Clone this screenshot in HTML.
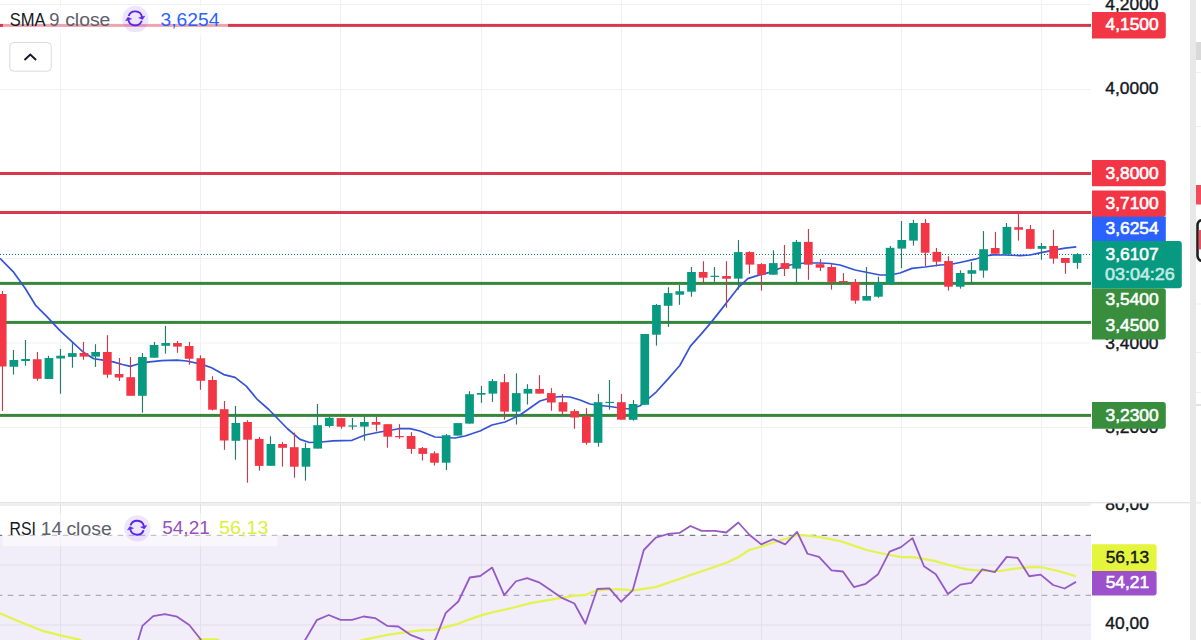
<!DOCTYPE html>
<html><head><meta charset="utf-8"><title>Chart</title>
<style>
html,body{margin:0;padding:0;background:#fff;overflow:hidden;}
body{width:1201px;height:640px;font-family:"Liberation Sans",sans-serif;}
svg{display:block;}
</style></head><body>
<svg width="1201" height="640" viewBox="0 0 1201 640" font-family="'Liberation Sans', sans-serif">
<rect width="1201" height="640" fill="#ffffff"/>
<rect x="0" y="535.4" width="1091" height="104.60000000000002" fill="#f1edf9"/>
<rect x="60.00" y="0" width="1" height="502" fill="#f0f1f4"/>
<rect x="60.00" y="504" width="1" height="136" fill="#e4e0ea"/>
<rect x="200.00" y="0" width="1" height="502" fill="#f0f1f4"/>
<rect x="200.00" y="504" width="1" height="136" fill="#e4e0ea"/>
<rect x="340.00" y="0" width="1" height="502" fill="#f0f1f4"/>
<rect x="340.00" y="504" width="1" height="136" fill="#e4e0ea"/>
<rect x="481.00" y="0" width="1" height="502" fill="#f0f1f4"/>
<rect x="481.00" y="504" width="1" height="136" fill="#e4e0ea"/>
<rect x="621.00" y="0" width="1" height="502" fill="#f0f1f4"/>
<rect x="621.00" y="504" width="1" height="136" fill="#e4e0ea"/>
<rect x="761.00" y="0" width="1" height="502" fill="#f0f1f4"/>
<rect x="761.00" y="504" width="1" height="136" fill="#e4e0ea"/>
<rect x="901.00" y="0" width="1" height="502" fill="#f0f1f4"/>
<rect x="901.00" y="504" width="1" height="136" fill="#e4e0ea"/>
<rect x="1041.00" y="0" width="1" height="502" fill="#f0f1f4"/>
<rect x="1041.00" y="504" width="1" height="136" fill="#e4e0ea"/>
<rect x="0" y="4.00" width="1091" height="1" fill="#f0f1f4"/>
<rect x="0" y="89.00" width="1091" height="1" fill="#f0f1f4"/>
<rect x="0" y="173.00" width="1091" height="1" fill="#f0f1f4"/>
<rect x="0" y="258.00" width="1091" height="1" fill="#f0f1f4"/>
<rect x="0" y="342.50" width="1091" height="1" fill="#f0f1f4"/>
<rect x="0" y="427.00" width="1091" height="1" fill="#f0f1f4"/>
<rect x="0" y="504.5" width="1091" height="1" fill="#e4e0ea"/>
<rect x="0" y="564.5" width="1091" height="1" fill="#e4e0ea"/>
<rect x="0" y="624.5" width="1091" height="1" fill="#e4e0ea"/>
<line x1="0" y1="535.4" x2="1091" y2="535.4" stroke="#787b86" stroke-width="1.3" stroke-dasharray="5.5 5.5" stroke-dashoffset="3.25"/>
<line x1="0" y1="595.4" x2="1091" y2="595.4" stroke="#aeaab8" stroke-width="1.2" stroke-dasharray="5.5 5.5" stroke-dashoffset="3.25"/>
<rect x="0" y="23.90" width="1091" height="3" fill="#d9374b"/>
<rect x="0" y="172.00" width="1091" height="3" fill="#d9374b"/>
<rect x="0" y="211.00" width="1091" height="3" fill="#d9374b"/>
<rect x="0" y="281.90" width="1091" height="3" fill="#38863c"/>
<rect x="0" y="320.90" width="1091" height="3" fill="#38863c"/>
<rect x="0" y="413.90" width="1091" height="3" fill="#38863c"/>
<line x1="0" y1="254.5" x2="1091" y2="254.5" stroke="#167a68" stroke-width="1" stroke-dasharray="1 2"/>
<polyline points="0.00,258.40 13.10,271.60 25.30,288.50 35.60,305.30 46.90,316.60 60.00,330.70 72.20,341.90 83.40,352.25 93.75,358.75 105.00,360.30 113.10,361.90 122.50,364.50 130.30,366.40 138.10,364.00 147.50,362.20 161.60,360.60 177.20,360.20 186.60,361.00 201.25,364.10 211.60,367.80 223.75,374.60 235.00,377.40 246.25,386.10 257.50,399.70 268.75,409.50 287.50,428.75 300.00,439.40 309.40,442.50 321.90,442.00 332.80,440.90 352.00,440.30 365.00,435.00 380.00,432.00 392.00,430.00 400.00,428.50 410.00,428.70 420.00,431.00 435.00,437.00 445.00,437.50 455.00,438.00 465.00,436.00 480.00,431.00 492.00,425.00 505.00,422.00 520.00,415.00 530.00,408.00 540.00,401.00 550.00,398.00 560.00,396.50 570.00,397.00 580.00,400.00 590.00,404.00 600.00,405.50 610.00,406.50 620.00,408.00 630.00,409.00 640.00,405.80 656.40,391.80 668.10,378.90 679.80,365.50 690.40,346.10 700.90,334.40 710.30,323.40 722.00,308.60 733.70,293.40 738.00,287.90 747.80,278.60 758.80,275.10 768.60,272.60 775.00,270.00 790.00,265.00 805.00,263.00 820.00,263.00 830.00,263.50 840.00,265.00 855.00,270.00 870.00,273.00 880.00,275.00 890.00,275.00 900.00,273.00 912.00,268.40 925.00,267.00 940.00,265.00 950.00,264.50 960.00,262.50 975.00,259.20 985.00,256.00 993.00,254.80 1005.00,255.00 1020.00,255.60 1030.00,255.00 1041.10,252.70 1055.20,249.90 1065.00,248.20 1076.30,246.80" fill="none" stroke="#3553d6" stroke-width="1.7" stroke-linejoin="round"/>
<rect x="1.90" y="291.00" width="1.15" height="120.00" fill="#bd404f"/>
<rect x="-2.15" y="294.00" width="8.7" height="72.50" fill="#f23645"/>
<rect x="12.90" y="350.00" width="1.15" height="24.50" fill="#267a69"/>
<rect x="9.53" y="360.00" width="8.7" height="6.75" fill="#089981"/>
<rect x="24.90" y="340.00" width="1.15" height="25.75" fill="#267a69"/>
<rect x="21.22" y="359.00" width="8.7" height="2.00" fill="#089981"/>
<rect x="36.90" y="352.00" width="1.15" height="28.75" fill="#bd404f"/>
<rect x="32.90" y="359.25" width="8.7" height="19.50" fill="#f23645"/>
<rect x="47.90" y="355.75" width="1.15" height="23.25" fill="#267a69"/>
<rect x="44.58" y="358.00" width="8.7" height="21.00" fill="#089981"/>
<rect x="59.90" y="349.00" width="1.15" height="44.75" fill="#267a69"/>
<rect x="56.27" y="355.75" width="8.7" height="2.75" fill="#089981"/>
<rect x="71.90" y="341.90" width="1.15" height="25.80" fill="#267a69"/>
<rect x="67.95" y="353.10" width="8.7" height="3.80" fill="#089981"/>
<rect x="82.90" y="341.90" width="1.15" height="17.90" fill="#bd404f"/>
<rect x="79.63" y="353.00" width="8.7" height="3.60" fill="#f23645"/>
<rect x="94.90" y="344.20" width="1.15" height="22.70" fill="#267a69"/>
<rect x="91.31" y="352.00" width="8.7" height="4.60" fill="#089981"/>
<rect x="106.90" y="335.20" width="1.15" height="42.60" fill="#bd404f"/>
<rect x="103.00" y="352.00" width="8.7" height="22.70" fill="#f23645"/>
<rect x="118.90" y="358.00" width="1.15" height="23.00" fill="#bd404f"/>
<rect x="114.68" y="374.00" width="8.7" height="3.50" fill="#f23645"/>
<rect x="129.90" y="357.00" width="1.15" height="38.80" fill="#bd404f"/>
<rect x="126.36" y="377.20" width="8.7" height="18.60" fill="#f23645"/>
<rect x="141.90" y="353.10" width="1.15" height="59.60" fill="#267a69"/>
<rect x="138.05" y="357.00" width="8.7" height="38.80" fill="#089981"/>
<rect x="153.90" y="341.90" width="1.15" height="15.80" fill="#267a69"/>
<rect x="149.73" y="345.00" width="8.7" height="12.70" fill="#089981"/>
<rect x="164.90" y="325.90" width="1.15" height="27.70" fill="#267a69"/>
<rect x="161.41" y="343.00" width="8.7" height="2.80" fill="#089981"/>
<rect x="176.90" y="341.00" width="1.15" height="11.80" fill="#bd404f"/>
<rect x="173.09" y="343.00" width="8.7" height="3.60" fill="#f23645"/>
<rect x="188.90" y="341.90" width="1.15" height="22.90" fill="#bd404f"/>
<rect x="184.78" y="346.00" width="8.7" height="12.75" fill="#f23645"/>
<rect x="199.90" y="355.20" width="1.15" height="34.60" fill="#bd404f"/>
<rect x="196.46" y="358.25" width="8.7" height="22.50" fill="#f23645"/>
<rect x="211.90" y="376.25" width="1.15" height="34.25" fill="#bd404f"/>
<rect x="208.14" y="380.00" width="8.7" height="29.70" fill="#f23645"/>
<rect x="223.90" y="401.00" width="1.15" height="48.80" fill="#bd404f"/>
<rect x="219.83" y="409.20" width="8.7" height="31.30" fill="#f23645"/>
<rect x="234.90" y="406.00" width="1.15" height="53.70" fill="#267a69"/>
<rect x="231.51" y="423.00" width="8.7" height="17.80" fill="#089981"/>
<rect x="246.90" y="420.20" width="1.15" height="62.50" fill="#bd404f"/>
<rect x="243.19" y="422.00" width="8.7" height="17.70" fill="#f23645"/>
<rect x="258.90" y="437.00" width="1.15" height="33.60" fill="#bd404f"/>
<rect x="254.88" y="438.90" width="8.7" height="27.00" fill="#f23645"/>
<rect x="269.90" y="436.25" width="1.15" height="29.55" fill="#267a69"/>
<rect x="266.56" y="444.00" width="8.7" height="21.80" fill="#089981"/>
<rect x="281.90" y="442.00" width="1.15" height="24.60" fill="#bd404f"/>
<rect x="278.24" y="444.00" width="8.7" height="3.80" fill="#f23645"/>
<rect x="293.90" y="432.70" width="1.15" height="45.00" fill="#bd404f"/>
<rect x="289.92" y="447.20" width="8.7" height="19.50" fill="#f23645"/>
<rect x="304.90" y="442.80" width="1.15" height="37.80" fill="#267a69"/>
<rect x="301.61" y="448.00" width="8.7" height="18.70" fill="#089981"/>
<rect x="316.90" y="404.00" width="1.15" height="44.60" fill="#267a69"/>
<rect x="313.29" y="425.20" width="8.7" height="23.40" fill="#089981"/>
<rect x="328.90" y="417.00" width="1.15" height="10.50" fill="#267a69"/>
<rect x="324.97" y="417.80" width="8.7" height="8.20" fill="#089981"/>
<rect x="340.90" y="418.10" width="1.15" height="10.65" fill="#bd404f"/>
<rect x="336.66" y="418.10" width="8.7" height="8.60" fill="#f23645"/>
<rect x="351.90" y="418.00" width="1.15" height="11.70" fill="#267a69"/>
<rect x="348.34" y="425.45" width="8.7" height="1.20" fill="#089981"/>
<rect x="363.90" y="416.40" width="1.15" height="24.20" fill="#267a69"/>
<rect x="360.02" y="422.00" width="8.7" height="4.60" fill="#089981"/>
<rect x="375.90" y="416.40" width="1.15" height="15.00" fill="#bd404f"/>
<rect x="371.71" y="422.00" width="8.7" height="2.70" fill="#f23645"/>
<rect x="386.90" y="424.20" width="1.15" height="23.50" fill="#bd404f"/>
<rect x="383.39" y="424.20" width="8.7" height="12.50" fill="#f23645"/>
<rect x="398.90" y="424.20" width="1.15" height="14.55" fill="#bd404f"/>
<rect x="395.07" y="436.00" width="8.7" height="1.20" fill="#f23645"/>
<rect x="410.90" y="432.20" width="1.15" height="21.70" fill="#bd404f"/>
<rect x="406.75" y="436.00" width="8.7" height="12.90" fill="#f23645"/>
<rect x="421.90" y="447.00" width="1.15" height="13.60" fill="#bd404f"/>
<rect x="418.44" y="448.10" width="8.7" height="5.80" fill="#f23645"/>
<rect x="433.90" y="451.25" width="1.15" height="14.35" fill="#bd404f"/>
<rect x="430.12" y="453.30" width="8.7" height="9.40" fill="#f23645"/>
<rect x="445.90" y="434.00" width="1.15" height="36.00" fill="#267a69"/>
<rect x="441.80" y="435.20" width="8.7" height="27.50" fill="#089981"/>
<rect x="456.90" y="423.10" width="1.15" height="12.50" fill="#267a69"/>
<rect x="453.49" y="423.10" width="8.7" height="12.50" fill="#089981"/>
<rect x="468.90" y="391.10" width="1.15" height="32.50" fill="#267a69"/>
<rect x="465.17" y="394.20" width="8.7" height="29.40" fill="#089981"/>
<rect x="480.90" y="386.00" width="1.15" height="16.80" fill="#267a69"/>
<rect x="476.85" y="393.00" width="8.7" height="1.70" fill="#089981"/>
<rect x="491.90" y="379.00" width="1.15" height="22.90" fill="#267a69"/>
<rect x="488.54" y="381.10" width="8.7" height="12.50" fill="#089981"/>
<rect x="503.90" y="374.00" width="1.15" height="45.70" fill="#bd404f"/>
<rect x="500.22" y="382.20" width="8.7" height="29.40" fill="#f23645"/>
<rect x="515.90" y="373.30" width="1.15" height="51.20" fill="#267a69"/>
<rect x="511.90" y="393.10" width="8.7" height="18.50" fill="#089981"/>
<rect x="526.90" y="384.20" width="1.15" height="20.30" fill="#267a69"/>
<rect x="523.59" y="388.90" width="8.7" height="4.70" fill="#089981"/>
<rect x="538.90" y="375.20" width="1.15" height="18.40" fill="#bd404f"/>
<rect x="535.27" y="389.00" width="8.7" height="4.60" fill="#f23645"/>
<rect x="550.90" y="388.10" width="1.15" height="22.70" fill="#bd404f"/>
<rect x="546.95" y="393.10" width="8.7" height="9.40" fill="#f23645"/>
<rect x="561.90" y="394.00" width="1.15" height="21.50" fill="#bd404f"/>
<rect x="558.63" y="402.20" width="8.7" height="9.40" fill="#f23645"/>
<rect x="573.90" y="409.20" width="1.15" height="19.55" fill="#bd404f"/>
<rect x="570.32" y="411.10" width="8.7" height="6.40" fill="#f23645"/>
<rect x="585.90" y="408.10" width="1.15" height="36.60" fill="#bd404f"/>
<rect x="582.00" y="416.25" width="8.7" height="26.55" fill="#f23645"/>
<rect x="597.90" y="394.00" width="1.15" height="52.70" fill="#267a69"/>
<rect x="593.68" y="402.20" width="8.7" height="40.60" fill="#089981"/>
<rect x="608.90" y="380.00" width="1.15" height="29.70" fill="#267a69"/>
<rect x="605.37" y="401.85" width="8.7" height="1.20" fill="#089981"/>
<rect x="620.90" y="394.00" width="1.15" height="25.70" fill="#bd404f"/>
<rect x="617.05" y="402.20" width="8.7" height="17.50" fill="#f23645"/>
<rect x="632.90" y="400.00" width="1.15" height="20.70" fill="#267a69"/>
<rect x="628.73" y="404.00" width="8.7" height="15.80" fill="#089981"/>
<rect x="643.90" y="334.00" width="1.15" height="70.80" fill="#267a69"/>
<rect x="640.41" y="334.00" width="8.7" height="70.80" fill="#089981"/>
<rect x="655.90" y="304.00" width="1.15" height="41.60" fill="#267a69"/>
<rect x="652.10" y="305.00" width="8.7" height="29.70" fill="#089981"/>
<rect x="667.90" y="287.30" width="1.15" height="39.60" fill="#267a69"/>
<rect x="663.78" y="293.10" width="8.7" height="12.70" fill="#089981"/>
<rect x="678.90" y="285.00" width="1.15" height="19.80" fill="#267a69"/>
<rect x="675.46" y="291.25" width="8.7" height="3.45" fill="#089981"/>
<rect x="690.90" y="267.00" width="1.15" height="29.70" fill="#267a69"/>
<rect x="687.15" y="272.00" width="8.7" height="19.70" fill="#089981"/>
<rect x="702.90" y="261.25" width="1.15" height="22.15" fill="#bd404f"/>
<rect x="698.83" y="272.00" width="8.7" height="5.70" fill="#f23645"/>
<rect x="713.90" y="267.00" width="1.15" height="14.90" fill="#267a69"/>
<rect x="710.51" y="275.75" width="8.7" height="1.20" fill="#089981"/>
<rect x="725.90" y="261.25" width="1.15" height="46.45" fill="#bd404f"/>
<rect x="722.20" y="276.00" width="8.7" height="2.75" fill="#f23645"/>
<rect x="737.90" y="240.10" width="1.15" height="49.40" fill="#267a69"/>
<rect x="733.88" y="252.10" width="8.7" height="26.50" fill="#089981"/>
<rect x="748.90" y="251.30" width="1.15" height="22.40" fill="#bd404f"/>
<rect x="745.56" y="252.10" width="8.7" height="12.50" fill="#f23645"/>
<rect x="760.90" y="263.10" width="1.15" height="27.50" fill="#bd404f"/>
<rect x="757.25" y="264.10" width="8.7" height="10.70" fill="#f23645"/>
<rect x="772.90" y="250.20" width="1.15" height="24.50" fill="#267a69"/>
<rect x="768.93" y="263.10" width="8.7" height="11.60" fill="#089981"/>
<rect x="783.90" y="245.00" width="1.15" height="31.00" fill="#bd404f"/>
<rect x="780.61" y="263.10" width="8.7" height="5.80" fill="#f23645"/>
<rect x="795.90" y="240.00" width="1.15" height="42.20" fill="#267a69"/>
<rect x="792.29" y="241.90" width="8.7" height="26.70" fill="#089981"/>
<rect x="807.90" y="229.00" width="1.15" height="50.80" fill="#bd404f"/>
<rect x="803.98" y="241.90" width="8.7" height="22.80" fill="#f23645"/>
<rect x="819.90" y="259.00" width="1.15" height="12.00" fill="#bd404f"/>
<rect x="815.66" y="264.20" width="8.7" height="3.50" fill="#f23645"/>
<rect x="830.90" y="264.20" width="1.15" height="25.50" fill="#bd404f"/>
<rect x="827.34" y="267.00" width="8.7" height="14.90" fill="#f23645"/>
<rect x="842.90" y="273.10" width="1.15" height="10.65" fill="#bd404f"/>
<rect x="839.03" y="281.05" width="8.7" height="1.20" fill="#f23645"/>
<rect x="854.90" y="279.00" width="1.15" height="24.75" fill="#bd404f"/>
<rect x="850.71" y="282.20" width="8.7" height="18.40" fill="#f23645"/>
<rect x="865.90" y="267.00" width="1.15" height="33.60" fill="#267a69"/>
<rect x="862.39" y="296.00" width="8.7" height="4.60" fill="#089981"/>
<rect x="877.90" y="276.70" width="1.15" height="21.10" fill="#267a69"/>
<rect x="874.08" y="282.70" width="8.7" height="14.00" fill="#089981"/>
<rect x="889.90" y="246.00" width="1.15" height="37.75" fill="#267a69"/>
<rect x="885.76" y="247.80" width="8.7" height="35.95" fill="#089981"/>
<rect x="900.90" y="221.00" width="1.15" height="47.10" fill="#267a69"/>
<rect x="897.44" y="240.00" width="8.7" height="8.60" fill="#089981"/>
<rect x="912.90" y="219.80" width="1.15" height="25.80" fill="#267a69"/>
<rect x="909.12" y="223.00" width="8.7" height="17.60" fill="#089981"/>
<rect x="924.90" y="219.00" width="1.15" height="47.00" fill="#bd404f"/>
<rect x="920.81" y="223.00" width="8.7" height="29.70" fill="#f23645"/>
<rect x="935.90" y="248.00" width="1.15" height="18.40" fill="#bd404f"/>
<rect x="932.49" y="251.90" width="8.7" height="9.80" fill="#f23645"/>
<rect x="947.90" y="256.25" width="1.15" height="34.35" fill="#bd404f"/>
<rect x="944.17" y="261.00" width="8.7" height="25.70" fill="#f23645"/>
<rect x="959.90" y="270.30" width="1.15" height="18.30" fill="#267a69"/>
<rect x="955.86" y="273.00" width="8.7" height="13.70" fill="#089981"/>
<rect x="970.90" y="262.00" width="1.15" height="20.30" fill="#267a69"/>
<rect x="967.54" y="270.20" width="8.7" height="3.55" fill="#089981"/>
<rect x="982.90" y="231.10" width="1.15" height="46.60" fill="#267a69"/>
<rect x="979.22" y="249.20" width="8.7" height="21.40" fill="#089981"/>
<rect x="994.90" y="231.90" width="1.15" height="21.85" fill="#bd404f"/>
<rect x="990.90" y="248.00" width="8.7" height="5.75" fill="#f23645"/>
<rect x="1005.90" y="223.00" width="1.15" height="31.20" fill="#267a69"/>
<rect x="1002.59" y="226.90" width="8.7" height="27.30" fill="#089981"/>
<rect x="1017.90" y="213.60" width="1.15" height="27.00" fill="#bd404f"/>
<rect x="1014.27" y="227.20" width="8.7" height="2.50" fill="#f23645"/>
<rect x="1029.90" y="225.00" width="1.15" height="23.80" fill="#bd404f"/>
<rect x="1025.95" y="229.10" width="8.7" height="19.70" fill="#f23645"/>
<rect x="1040.90" y="242.90" width="1.15" height="16.90" fill="#267a69"/>
<rect x="1037.64" y="246.00" width="8.7" height="2.80" fill="#089981"/>
<rect x="1052.90" y="229.80" width="1.15" height="33.90" fill="#bd404f"/>
<rect x="1049.32" y="246.00" width="8.7" height="12.60" fill="#f23645"/>
<rect x="1064.90" y="258.00" width="1.15" height="15.80" fill="#bd404f"/>
<rect x="1061.00" y="258.00" width="8.7" height="4.90" fill="#f23645"/>
<rect x="1076.90" y="253.20" width="1.15" height="15.70" fill="#267a69"/>
<rect x="1072.69" y="254.10" width="8.7" height="8.80" fill="#089981"/>
<polyline points="0.00,613.30 20.80,622.30 41.70,630.60 60.40,635.40 79.20,639.60 84.00,642.00" fill="none" stroke="#e3f44c" stroke-width="2.2" stroke-linejoin="round"/>
<polyline points="195.00,642.00 200.00,639.30 216.70,639.30 222.00,642.00" fill="none" stroke="#e3f44c" stroke-width="2.2" stroke-linejoin="round"/>
<polyline points="355.00,642.00 364.60,639.60 387.50,634.80 410.40,631.70 422.90,630.20 433.30,630.00 445.80,627.10 458.30,623.75 468.75,619.60 481.25,615.40 491.70,612.50 510.80,608.30 531.70,602.90 552.50,599.40 573.30,595.80 585.80,594.80 596.25,590.60 608.75,589.40 621.25,589.40 633.75,590.40 655.40,587.10 672.00,581.50 692.90,574.20 713.75,567.30 728.30,562.00 738.75,556.90 749.20,550.00 761.70,546.50 774.20,542.30 786.70,538.50 797.10,535.00 807.50,535.60 820.00,537.10 840.80,541.25 850.00,544.40 866.70,550.00 883.30,553.75 900.00,556.90 914.60,557.30 933.30,560.60 950.00,565.20 966.70,569.40 983.30,571.00 1000.00,571.00 1016.70,568.30 1033.30,566.90 1041.70,567.30 1058.30,571.00 1076.00,576.25" fill="none" stroke="#e3f44c" stroke-width="2.2" stroke-linejoin="round"/>
<polyline points="137.90,641.00 142.40,625.90 153.20,616.10 164.90,614.20 177.10,616.70 189.30,625.00 200.40,639.00 202.00,642.00" fill="none" stroke="#955ac6" stroke-width="1.8" stroke-linejoin="round"/>
<polyline points="303.00,642.00 305.20,640.00 316.70,620.20 328.75,615.00 340.60,619.80 352.10,619.80 363.50,616.50 375.00,618.10 387.10,625.80 398.30,626.50 410.40,634.80 422.90,639.60 426.00,642.00" fill="none" stroke="#955ac6" stroke-width="1.8" stroke-linejoin="round"/>
<polyline points="432.00,642.00 435.00,640.00 445.80,612.90 458.30,601.50 469.80,577.50 480.20,576.00 492.20,567.60 504.20,595.20 516.00,581.25 527.10,578.10 539.00,582.30 550.40,590.00 561.90,597.90 574.40,603.50 585.40,623.75 597.30,589.00 609.40,588.30 621.10,601.90 632.80,590.10 643.80,550.00 655.80,537.70 667.90,534.00 679.40,532.90 690.40,526.00 701.70,530.80 714.80,530.80 726.25,532.50 738.30,522.50 749.60,535.00 761.25,544.40 773.10,539.20 785.20,544.40 797.10,531.90 807.50,553.75 819.00,556.90 831.50,570.40 842.90,571.50 853.90,587.10 865.70,583.80 878.10,574.20 889.60,551.70 901.00,547.10 912.50,538.10 924.00,566.25 935.80,574.20 947.90,594.00 960.40,584.60 971.25,582.90 982.30,569.40 994.80,572.10 1006.70,556.90 1017.70,557.90 1029.20,576.25 1040.60,574.60 1053.10,585.00 1064.60,588.50 1076.00,581.90" fill="none" stroke="#955ac6" stroke-width="1.8" stroke-linejoin="round"/>
<rect x="0" y="502" width="1190" height="1.6" fill="#e3e3e6"/>
<rect x="1091" y="0" width="99" height="502" fill="#ffffff"/>
<rect x="1091" y="503.6" width="99" height="136.39999999999998" fill="#ffffff"/>
<text x="1105.3" y="9.6" fill="#131722" font-size="17.4" stroke="#131722" stroke-width="0.4" >4,2000</text>
<text x="1105.3" y="93.7" fill="#131722" font-size="17.4" stroke="#131722" stroke-width="0.4" >4,0000</text>
<text x="1105.3" y="349.4" fill="#131722" font-size="17.4" stroke="#131722" stroke-width="0.4" >3,4000</text>
<text x="1105.3" y="433.4" fill="#131722" font-size="17.4" stroke="#131722" stroke-width="0.4" >3,2000</text>
<svg x="1091" y="503.6" width="99" height="30" overflow="hidden"><text x="14.3" y="6.4" fill="#131722" font-size="17.4" stroke="#131722" stroke-width="0.4">80,00</text></svg>
<text x="1105.3" y="629.4" fill="#131722" font-size="17.4" stroke="#131722" stroke-width="0.4" >40,00</text>
<path d="M1092,12.1 H1162.8 Q1165.8,12.1 1165.8,15.1 V35.6 Q1165.8,38.6 1162.8,38.6 H1092 Z" fill="#f23645"/>
<text x="1105.5" y="30.2" fill="#ffffff" font-size="17.4" stroke="#ffffff" stroke-width="0.6" >4,1500</text>
<path d="M1092,160 H1162.8 Q1165.8,160 1165.8,163 V183.3 Q1165.8,186.3 1162.8,186.3 H1092 Z" fill="#f23645"/>
<text x="1105.5" y="179.3" fill="#ffffff" font-size="17.4" stroke="#ffffff" stroke-width="0.6" >3,8000</text>
<path d="M1092,190.4 H1162.8 Q1165.8,190.4 1165.8,193.4 V213.9 Q1165.8,216.9 1162.8,216.9 H1092 Z" fill="#f23645"/>
<text x="1105.5" y="208.7" fill="#ffffff" font-size="17.4" stroke="#ffffff" stroke-width="0.6" >3,7100</text>
<rect x="1092" y="216.7" width="73.8" height="24.4" fill="#2962ff"/>
<text x="1105.5" y="233.6" fill="#ffffff" font-size="17.4" stroke="#ffffff" stroke-width="0.6" >3,6254</text>
<path d="M1092,288.3 H1162.8 Q1165.8,288.3 1165.8,291.3 V336.5 Q1165.8,339.5 1162.8,339.5 H1092 Z" fill="#388e3c"/>
<text x="1105.5" y="305.2" fill="#ffffff" font-size="17.4" stroke="#ffffff" stroke-width="0.6" >3,5400</text>
<text x="1105.5" y="330.6" fill="#ffffff" font-size="17.4" stroke="#ffffff" stroke-width="0.6" >3,4500</text>
<path d="M1092,241.1 H1178.8 Q1181.8,241.1 1181.8,244.1 V285.3 Q1181.8,288.3 1178.8,288.3 H1092 Z" fill="#089981"/>
<text x="1105.5" y="259.6" fill="#ffffff" font-size="17.4" stroke="#ffffff" stroke-width="0.6" >3,6107</text>
<text x="1105.0" y="280.1" fill="#c2ebe3" font-size="17.4" stroke="#c2ebe3" stroke-width="0.6" textLength="69.8" lengthAdjust="spacingAndGlyphs">03:04:26</text>
<path d="M1092,402 H1162.8 Q1165.8,402 1165.8,405 V425.75 Q1165.8,428.75 1162.8,428.75 H1092 Z" fill="#388e3c"/>
<text x="1105.5" y="420.75" fill="#ffffff" font-size="17.4" stroke="#ffffff" stroke-width="0.6" >3,2300</text>
<path d="M1092,544.3 H1153.6 Q1156.6,544.3 1156.6,547.3 V568 Q1156.6,571 1153.6,571 H1092 Z" fill="#e4f53c"/>
<text x="1105.7" y="562.6" fill="#131722" font-size="17.4" stroke="#131722" stroke-width="0.4" >56,13</text>
<path d="M1092,571 H1153.6 Q1156.6,571 1156.6,574 V592.6 Q1156.6,595.6 1153.6,595.6 H1092 Z" fill="#9c50cc"/>
<text x="1105.7" y="587.75" fill="#ffffff" font-size="17.4" stroke="#ffffff" stroke-width="0.6" >54,21</text>
<rect x="1190" y="0" width="6" height="640" fill="#e8e8e9"/>
<rect x="1196" y="42" width="5" height="18" fill="#d9d9d9"/>
<rect x="1196" y="72" width="5" height="1" fill="#efefef"/>
<rect x="1196" y="126" width="5" height="1" fill="#efefef"/>
<rect x="1196" y="185" width="5" height="19.5" fill="#f24c5c"/>
<rect x="1197.5" y="220.2" width="9" height="40.6" rx="5" fill="#ffffff" stroke="#202020" stroke-width="2.6"/>
<rect x="1198.8" y="230" width="3" height="19.4" fill="#ef5060"/>
<rect x="1196" y="303.5" width="5" height="1" fill="#efefef"/>
<rect x="1196" y="352" width="5" height="1" fill="#efefef"/>
<rect x="1196" y="392" width="5" height="1" fill="#efefef"/>
<rect x="1196" y="404" width="5" height="2" fill="#e2e2e2"/>
<rect x="1196" y="502" width="5" height="1.5" fill="#eeeeee"/>
<rect x="3" y="5" width="225" height="32" rx="3" fill="#ffffff" fill-opacity="0.55"/>
<text x="9.8" y="25.5" fill="#131722" font-size="18.7" textLength="35.8" lengthAdjust="spacingAndGlyphs">SMA</text>
<text x="49.2" y="25.5" fill="#5d606b" font-size="18.7" textLength="10.2" lengthAdjust="spacingAndGlyphs">9</text>
<text x="65.2" y="25.5" fill="#5d606b" font-size="18.7" textLength="45.2" lengthAdjust="spacingAndGlyphs">close</text>
<circle cx="135.35" cy="19.05" r="13.2" fill="#7c4dff" fill-opacity="0.14"/>
<g transform="translate(135.2,18.4)"><g fill="none" stroke="#5b26ea" stroke-width="1.9"><path d="M-6.58,-2.39 A7.0,7.0 0 0 1 6.85,-1.46"/><path d="M6.58,2.39 A7.0,7.0 0 0 1 -6.85,1.46"/></g><path d="M3.6,-0.6 L9.6,-2.3 L7.3,1.2 Z" fill="#5b26ea" stroke="#5b26ea" stroke-width="0.5" stroke-linejoin="round"/><path d="M3.6,-0.6 L9.6,-2.3 L7.3,1.2 Z" transform="rotate(180)" fill="#5b26ea" stroke="#5b26ea" stroke-width="0.5" stroke-linejoin="round"/></g>
<text x="160.5" y="25.8" fill="#2962ff" font-size="18.7" textLength="58.9" lengthAdjust="spacingAndGlyphs">3,6254</text>
<rect x="9.8" y="42.5" width="41.5" height="28.7" rx="4" fill="#ffffff" stroke="#dadbde" stroke-width="1"/>
<polyline points="24.5,60 30.3,54.6 36.1,60" fill="none" stroke="#131722" stroke-width="1.9"/>
<rect x="2.5" y="513" width="275" height="33.2" rx="3" fill="#ffffff" fill-opacity="0.55"/>
<text x="9.6" y="534.6" fill="#131722" font-size="18.7" textLength="26.4" lengthAdjust="spacingAndGlyphs">RSI</text>
<text x="40.8" y="534.6" fill="#5d606b" font-size="18.7" textLength="21.2" lengthAdjust="spacingAndGlyphs">14</text>
<text x="66.4" y="534.6" fill="#5d606b" font-size="18.7" textLength="45.4" lengthAdjust="spacingAndGlyphs">close</text>
<circle cx="137.25" cy="528.35" r="13.2" fill="#7c4dff" fill-opacity="0.14"/>
<g transform="translate(137.1,527.7)"><g fill="none" stroke="#5b26ea" stroke-width="1.9"><path d="M-6.58,-2.39 A7.0,7.0 0 0 1 6.85,-1.46"/><path d="M6.58,2.39 A7.0,7.0 0 0 1 -6.85,1.46"/></g><path d="M3.6,-0.6 L9.6,-2.3 L7.3,1.2 Z" fill="#5b26ea" stroke="#5b26ea" stroke-width="0.5" stroke-linejoin="round"/><path d="M3.6,-0.6 L9.6,-2.3 L7.3,1.2 Z" transform="rotate(180)" fill="#5b26ea" stroke="#5b26ea" stroke-width="0.5" stroke-linejoin="round"/></g>
<text x="162.2" y="534.4" fill="#9650bc" font-size="18.7" textLength="47.6" lengthAdjust="spacingAndGlyphs">54,21</text>
<text x="219" y="534.4" fill="#dcf03a" font-size="18.7" textLength="49.5" lengthAdjust="spacingAndGlyphs">56,13</text>
</svg>
</body></html>
